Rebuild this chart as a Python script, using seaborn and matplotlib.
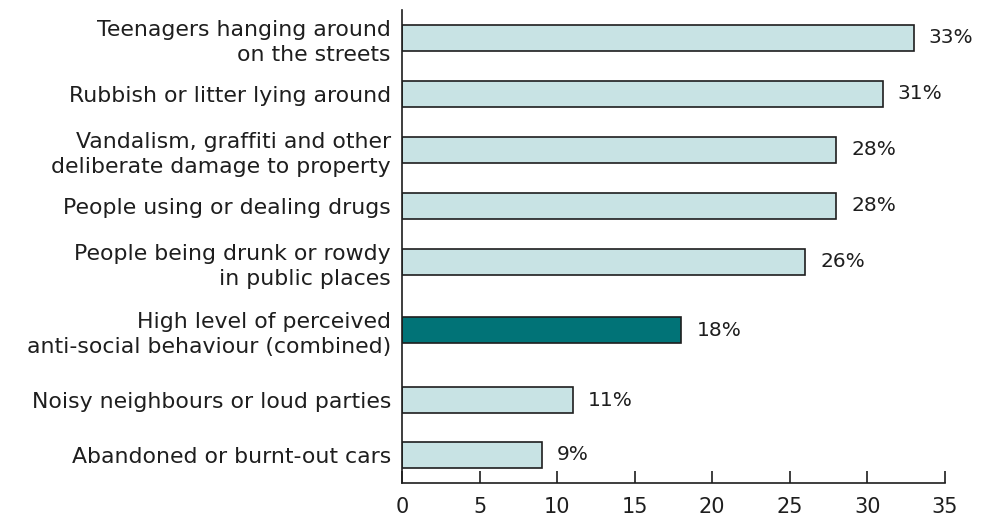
import matplotlib
matplotlib.use("Agg")
import matplotlib.pyplot as plt
import seaborn as sns
import pandas as pd
import numpy as np

categories = [
    "Teenagers hanging around\non the streets",
    "Rubbish or litter lying around",
    "Vandalism, graffiti and other\ndeliberate damage to property",
    "People using or dealing drugs",
    "People being drunk or rowdy\nin public places",
    "High level of perceived\nanti-social behaviour (combined)",
    "Noisy neighbours or loud parties",
    "Abandoned or burnt-out cars",
]
values = [33, 31, 28, 28, 26, 18, 11, 9]
is_combined = [False, False, False, False, False, True, False, False]
x_ticks = [0, 5, 10, 15, 20, 25, 30, 35]

# Row positions: the combined measure sits apart with a little extra space around it
gaps = [0, 1, 1, 1, 1, 1.22, 1.25, 0.98]
rows = np.cumsum(gaps)

light = "#c8e3e4"
dark = "#017377"
text_col = "#1e1e1e"

sns.set_theme(style="white")
plt.rcParams["font.family"] = ["DejaVu Sans"]

df = pd.DataFrame({"row": rows, "value": values,
                   "group": ["combined" if c else "item" for c in is_combined]})

fig = plt.figure(figsize=(9.83, 5.26), dpi=100)
ax = fig.add_axes([0.409, 0.082, 0.552, 0.899])

sns.barplot(data=df, x="value", y="row", hue="group", orient="y",
            native_scale=True, palette={"item": light, "combined": dark},
            saturation=1, width=0.48, edgecolor="#1e1e1e", linewidth=1.2,
            legend=False, ax=ax, dodge=False)

for cont in ax.containers:
    ax.bar_label(cont, labels=[f"{v:g}%" for v in cont.datavalues],
                 padding=11, fontsize=14.5, color=text_col)

ax.set_xlim(0, 35)
ax.set_ylim(7.95, -0.5)
ax.set_xticks(x_ticks)
ax.set_xticklabels([str(t) for t in x_ticks], fontsize=15, color=text_col)
ax.set_yticks(rows)
ax.set_yticklabels(categories, fontsize=15.8, color=text_col, linespacing=1.3)
ax.set_xlabel("")
ax.set_ylabel("")

for side in ["top", "right"]:
    ax.spines[side].set_visible(False)
for side in ["left", "bottom"]:
    ax.spines[side].set_color("#1e1e1e")
    ax.spines[side].set_linewidth(1.2)

ax.tick_params(axis="x", direction="in", length=9, width=1.2, color="#1e1e1e",
               bottom=True, pad=10)
ax.tick_params(axis="y", length=0, pad=8)

fig.savefig("out.png", dpi=100, facecolor="white")
